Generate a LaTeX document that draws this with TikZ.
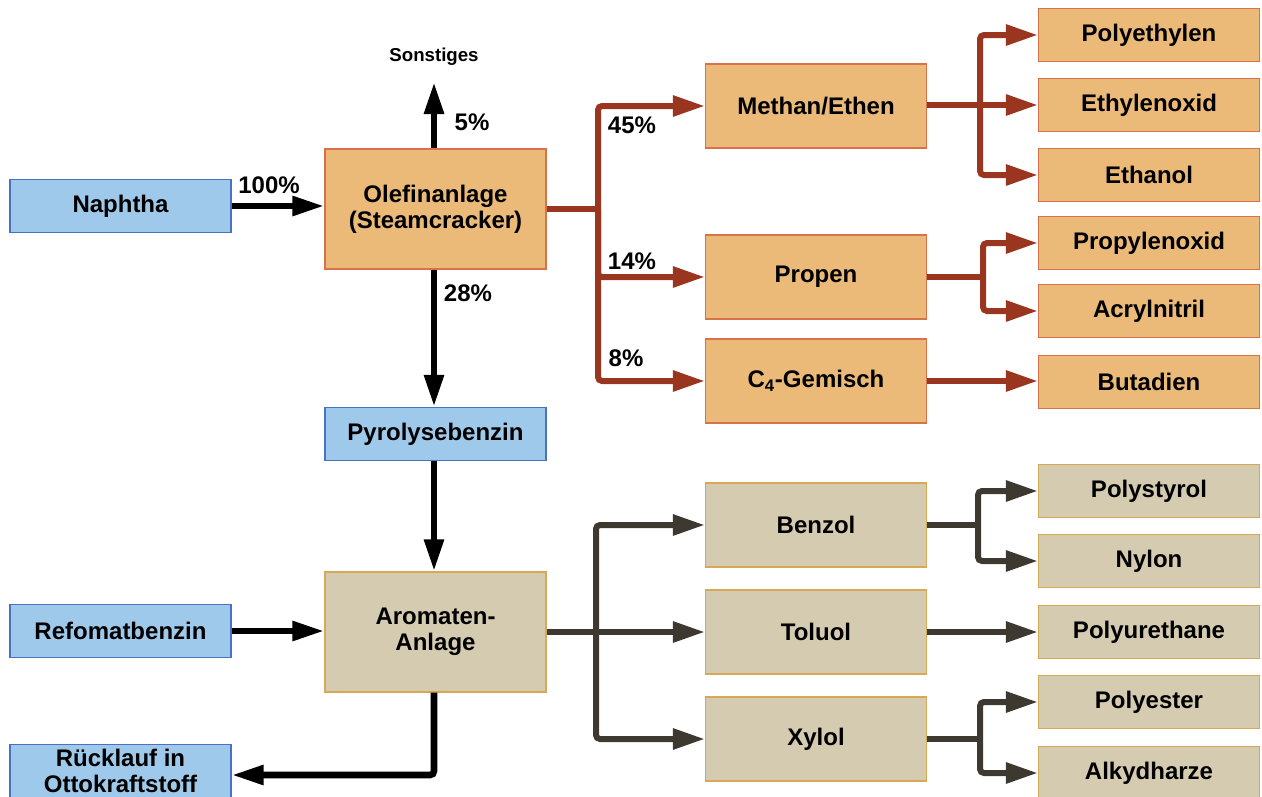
\documentclass[tikz,border=0pt]{standalone}
\usepackage{fontspec}
\setmainfont{Liberation Sans}
\usetikzlibrary{arrows.meta}
\definecolor{bfill}{HTML}{9FC9EB}
\definecolor{bline}{HTML}{4A72C4}
\definecolor{ofill}{HTML}{EBB978}
\definecolor{oline}{HTML}{D9714A}
\definecolor{gfill}{HTML}{D5CBB0}
\definecolor{gline}{HTML}{D6A955}
\definecolor{rarrow}{HTML}{9A3520}
\definecolor{darrow}{HTML}{3D3830}
\tikzset{
  box/.style={draw, line width=1pt, minimum width=165.75pt, minimum height=39.75pt, inner sep=0pt, align=center, font=\fontsize{18}{19.5}\selectfont\bfseries},
  bluebox/.style={box, fill=bfill, draw=bline},
  orbox/.style={box, fill=ofill, draw=oline},
  grbox/.style={box, fill=gfill, draw=gline},
  tallbox/.style={minimum height=90pt},
  midbox/.style={minimum height=63pt},
  blk/.style={line width=5pt, draw=black, -{Triangle[length=24pt,width=14pt]}},
  rda/.style={line width=4.5pt, draw=rarrow, rounded corners=3pt, -{Triangle[length=24pt,width=15pt]}},
  dka/.style={line width=4.5pt, draw=darrow, rounded corners=3pt, -{Triangle[length=24pt,width=15pt]}},
  lbl/.style={font=\fontsize{18}{19.5}\selectfont\bfseries, inner sep=0pt},
}
\begin{document}
\begin{tikzpicture}[x=0.75pt,y=-0.75pt]
\useasboundingbox (0,0) rectangle (1262,796);
% left column
\node[bluebox] (naph) at (120.5,206) {Naphtha};
\node[orbox,tallbox] (olef) at (435.5,209) {Olefinanlage\\(Steamcracker)};
\node[bluebox] (pyro) at (435.5,434) {Pyrolysebenzin};
\node[grbox,tallbox] (arom) at (435.5,632) {Aromaten-\\Anlage};
\node[bluebox] (refo) at (120.5,631) {Refomatbenzin};
\node[bluebox] (ruck) at (120.5,771) {R\"ucklauf in\\Ottokraftstoff};
\node[font=\fontsize{14}{15}\selectfont\bfseries, inner sep=0pt] (sonst) at (434,57) {Sonstiges};
\coordinate (stop) at (434,82);
% middle column
\node[orbox,midbox] (meth) at (816,106) {Methan/Ethen};
\node[orbox,midbox] (prop) at (816,277) {Propen};
\node[orbox,midbox] (cvier) at (816,381) {C\textsubscript{4}-Gemisch};
\node[grbox,midbox] (benz) at (816,525) {Benzol};
\node[grbox,midbox] (tolu) at (816,632) {Toluol};
\node[grbox,midbox] (xylo) at (816,739) {Xylol};
% right column
\node[orbox] (pe) at (1149,35) {Polyethylen};
\node[orbox] (eo) at (1149,105) {Ethylenoxid};
\node[orbox] (eth) at (1149,175) {Ethanol};
\node[orbox] (po) at (1149,243) {Propylenoxid};
\node[orbox] (an) at (1149,311) {Acrylnitril};
\node[orbox] (bd) at (1149,382) {Butadien};
\node[grbox] (ps) at (1149,491) {Polystyrol};
\node[grbox] (ny) at (1149,561) {Nylon};
\node[grbox] (pu) at (1149,632) {Polyurethane};
\node[grbox] (pes) at (1149,702) {Polyester};
\node[grbox] (alk) at (1149,773) {Alkydharze};
% black arrows
\draw[blk] (naph.east) -- (olef.west |- naph.east);
\draw[blk] (olef.north -| stop) -- (stop);
\draw[blk] (olef.south -| stop) -- (pyro.north -| stop);
\draw[blk] (pyro.south -| stop) -- (arom.north -| stop);
\draw[blk] (refo.east) -- (arom.west |- refo.east);
\coordinate (rkc) at (434,775);
\draw[blk, rounded corners=3pt] (arom.south -| stop) -- (rkc) -- (ruck.east |- rkc);
\node[lbl] (l100) at (269,185) {100\%};
\node[lbl] (l5) at (472,122) {5\%};
\node[lbl] (l28) at (468,293) {28\%};
% red tree
\coordinate (rt) at (598,209);
\draw[line width=4.5pt, draw=rarrow] (olef.east) -- (rt);
\draw[rda] (rt) |- (meth.west);
\draw[rda] (rt) |- (prop.west);
\draw[rda] (rt) |- (cvier.west);
\node[lbl] (l45) at (632,125) {45\%};
\node[lbl] (l14) at (632,261) {14\%};
\node[lbl] (l8) at (626,358) {8\%};
\coordinate (r1) at (980,105);
\draw[line width=4.5pt, draw=rarrow] (meth.east |- r1) -- (r1);
\draw[rda] (r1) |- (pe.west);
\draw[rda] (r1) -- (eo.west);
\draw[rda] (r1) |- (eth.west);
\coordinate (r2) at (983,277);
\draw[line width=4.5pt, draw=rarrow] (prop.east) -- (r2);
\draw[rda] (r2) |- (po.west);
\draw[rda] (r2) |- (an.west);
\draw[rda] (cvier.east) -- (bd.west |- cvier.east);
% dark tree
\coordinate (dt) at (596,632);
\draw[line width=4.5pt, draw=darrow] (arom.east |- dt) -- (dt);
\draw[dka] (dt) |- (benz.west);
\draw[dka] (dt) -- (tolu.west);
\draw[dka] (dt) |- (xylo.west);
\coordinate (d1) at (978,525);
\draw[line width=4.5pt, draw=darrow] (benz.east |- d1) -- (d1);
\draw[dka] (d1) |- (ps.west);
\draw[dka] (d1) |- (ny.west);
\draw[dka] (tolu.east) -- (pu.west);
\coordinate (d2) at (980,739);
\draw[line width=4.5pt, draw=darrow] (xylo.east |- d2) -- (d2);
\draw[dka] (d2) |- (pes.west);
\draw[dka] (d2) |- (alk.west);
\end{tikzpicture}
\end{document}
